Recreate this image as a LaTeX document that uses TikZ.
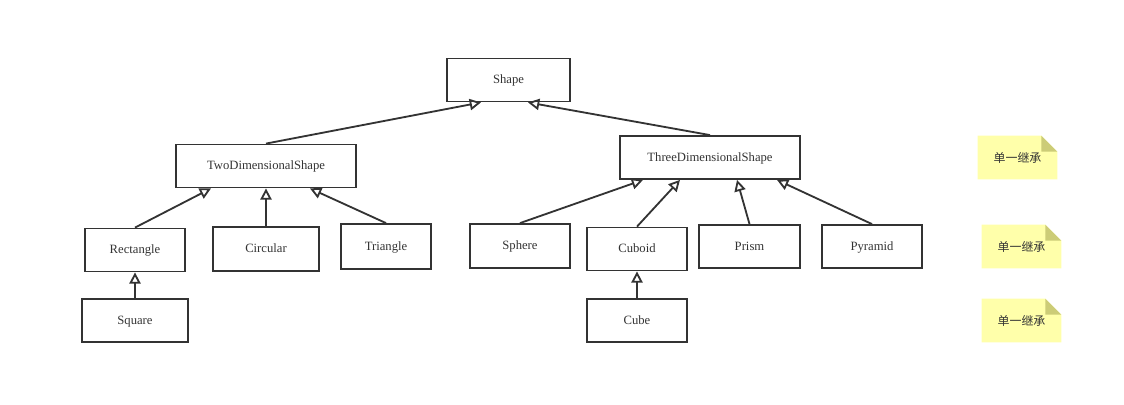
\documentclass[tikz,border=0pt]{standalone}
\usepackage{fontspec}
\setmainfont{Liberation Serif}
\newfontfamily\cjk{Noto Sans CJK SC}
\usetikzlibrary{arrows.meta,calc,backgrounds}

\definecolor{linegray}{HTML}{333333}
\definecolor{notebg}{HTML}{FFFFAA}
\definecolor{notefold}{HTML}{CCCC77}

\tikzset{
  cls/.style={draw=linegray, line width=1.3pt, text=linegray, font=\fontsize{9}{10}\selectfont,
    minimum width=100*0.025cm, minimum height=43*0.025cm, inner sep=0pt,
    text height=1.4ex, text depth=0.2ex},
  inherit/.style={draw=linegray, line width=1.3pt, -{Triangle[open, length=8pt, width=8pt]}},
  memo/.style={minimum width=79*0.025cm, minimum height=43*0.025cm, inner sep=0pt,
    text=linegray, font=\cjk\fontsize{8.5}{10}\selectfont}
}

\begin{document}
\begin{tikzpicture}[x=0.025cm, y=-0.025cm]

\useasboundingbox (0,0) rectangle (1124,404);

\node[cls, minimum width=123*0.025cm] (shape) at (508.5, 80) {Shape};

\node[cls, minimum width=180*0.025cm] (two) at (266, 166) {TwoDimensionalShape};
\node[cls, minimum width=180*0.025cm] (three) at (710, 157.5) {ThreeDimensionalShape};

\node[cls] (rect) at (135, 250) {Rectangle};
\node[cls, minimum width=106*0.025cm, minimum height=44*0.025cm] (circ) at (266, 249) {Circular};
\node[cls, minimum width=90*0.025cm, minimum height=45*0.025cm] (tri) at (386, 246.5) {Triangle};
\node[cls, minimum height=44*0.025cm] (sphere) at (520, 246) {Sphere};
\node[cls] (cuboid) at (637, 249) {Cuboid};
\node[cls, minimum width=101*0.025cm] (prism) at (749.5, 246.5) {Prism};
\node[cls] (pyramid) at (872, 246.5) {Pyramid};

\node[cls, minimum width=106*0.025cm] (square) at (135, 320.5) {Square};
\node[cls] (cube) at (637, 320.5) {Cube};

% inheritance
\draw[inherit] (two.north) -- ($(shape.south)+(-27.5,0)$);
\draw[inherit] (three.north) -- ($(shape.south)+(19.5,0)$);

\draw[inherit] (rect.north) -- ($(two.south)+(-55,0)$);
\draw[inherit] (circ.north) -- (two.south);
\draw[inherit] (tri.north) -- ($(two.south)+(44,0)$);

\draw[inherit] (sphere.north) -- ($(three.south)+(-67,0)$);
\draw[inherit] (cuboid.north) -- ($(three.south)+(-30,0)$);
\draw[inherit] (prism.north) -- ($(three.south)+(27,0)$);
\draw[inherit] (pyramid.north) -- ($(three.south)+(67,0)$);

\draw[inherit] (square.north) -- (rect.south);
\draw[inherit] (cube.north) -- (cuboid.south);

% notes
\node[memo] (memo1) at (1017.5, 157.5) {单一继承};
\node[memo] (memo2) at (1021.5, 246.5) {单一继承};
\node[memo] (memo3) at (1021.5, 320.5) {单一继承};

\begin{scope}[on background layer]
\foreach \m in {memo1, memo2, memo3} {
  \fill[notebg] (\m.south west) -- (\m.south east) -- ($(\m.north east)+(0,16)$)
    -- ($(\m.north east)+(-16,0)$) -- (\m.north west) -- cycle;
  \fill[notefold] ($(\m.north east)+(-16,0)$) -- ($(\m.north east)+(0,16)$)
    -- ($(\m.north east)+(-16,16)$) -- cycle;
}
\end{scope}

\end{tikzpicture}
\end{document}
